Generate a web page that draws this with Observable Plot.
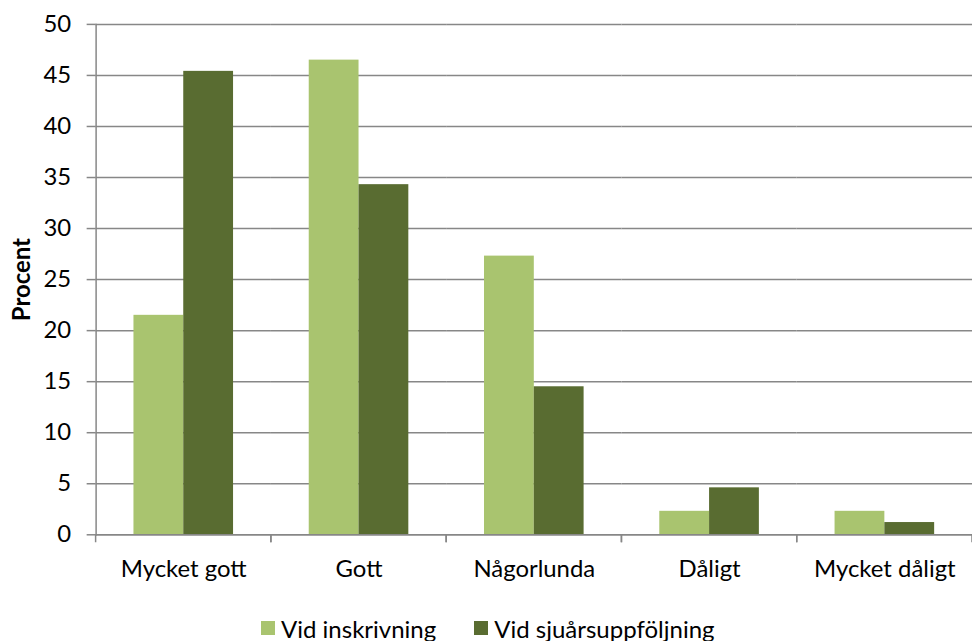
<!DOCTYPE html>
<html>
<head>
<meta charset="utf-8">
<script src="https://cdn.jsdelivr.net/npm/d3@7"></script>
<script src="https://cdn.jsdelivr.net/npm/@observablehq/plot@0.6"></script>
<style>
  html, body { margin: 0; padding: 0; background: #fff; overflow: hidden; }
  #chart { position: relative; width: 972px; height: 641px; overflow: hidden; font-family: Lato, "Noto Sans", sans-serif; }
  #plot svg { display: block; }
  .legend { position: absolute; left: 261px; top: 612px; height: 32px; display: flex; align-items: center; font-size: 24px; color: #000; white-space: nowrap; }
  .legend .item { display: flex; align-items: center; }
  .legend .item + .item { margin-left: 38px; }
  .legend .swatch { width: 14px; height: 14px; margin-right: 6px; }
</style>
</head>
<body>
<div id="chart">
  <div id="plot"></div>
  <div class="legend" id="legend"></div>
</div>
<script>
// Self-rated health, share of respondents (%)
const categories = ["Mycket gott", "Gott", "Någorlunda", "Dåligt", "Mycket dåligt"];
const series = ["Vid inskrivning", "Vid sjuårsuppföljning"];
const vidInskrivning = [21.5, 46.5, 27.3, 2.3, 2.3];
const vidSjuarsuppfoljning = [45.4, 34.3, 14.5, 4.6, 1.2];
const yTicks = [0, 5, 10, 15, 20, 25, 30, 35, 40, 45, 50];
const yLabel = "Procent";
const colors = ["#a9c46f", "#596c31"];

const rows = categories.flatMap((category, i) => [
  {category, series: series[0], value: vidInskrivning[i]},
  {category, series: series[1], value: vidSjuarsuppfoljning[i]}
]);

const gray = "#878787";

// Tick marks on the category axis at the edges of each category band
function bandEdgeTicks(index, scales, values, dimensions) {
  const {x, y} = scales;
  const [r0, r1] = x.range();
  const y0 = y(0);
  const g = d3.create("svg:g");
  for (const px of [r0, r1]) {
    g.append("line")
      .attr("x1", px).attr("x2", px)
      .attr("y1", y0).attr("y2", y0 + 8)
      .attr("stroke", gray).attr("stroke-width", 1.5);
  }
  return g.node();
}

const plot = Plot.plot({
  width: 976,
  height: 600,
  marginLeft: 96,
  marginRight: 0,
  marginTop: 24,
  marginBottom: 63.5,
  style: {fontFamily: "Lato, 'Noto Sans', sans-serif", fontSize: "24px", color: "#000", background: "transparent"},
  fx: {domain: categories, padding: 0, label: null},
  x: {domain: series, paddingInner: 0, paddingOuter: 0.76, axis: null},
  y: {domain: [0, 50], label: null},
  color: {domain: series, range: colors},
  marks: [
    Plot.gridY(yTicks, {stroke: gray, strokeOpacity: 1, strokeWidth: 1.5}),
    Plot.axisY(yTicks, {tickSize: 9, tickPadding: 16, stroke: gray, strokeWidth: 1.5, fill: "#000", fontSize: 24, label: null}),
    Plot.frame({anchor: "left", facetAnchor: "left", stroke: gray, strokeWidth: 1.5}),
    Plot.barY(rows, {fx: "category", x: "series", y: "value", fill: "series"}),
    Plot.ruleY([0], {stroke: gray, strokeWidth: 1.5}),
    bandEdgeTicks,
    Plot.axisFx({anchor: "bottom", tickSize: 0, tickPadding: 25, fontSize: 24, label: null}),
    Plot.text([yLabel], {
      frameAnchor: "left", facetAnchor: "left", rotate: -90, dx: -66,
      textAnchor: "middle", lineAnchor: "bottom", fontWeight: "bold", fontSize: 24, fill: "#000"
    })
  ]
});
document.getElementById("plot").appendChild(plot);

// Legend below the plot
const legend = d3.select("#legend");
series.forEach((name, i) => {
  const item = legend.append("div").attr("class", "item");
  item.append("div").attr("class", "swatch").style("background", colors[i]);
  item.append("span").text(name);
});
</script>
</body>
</html>
